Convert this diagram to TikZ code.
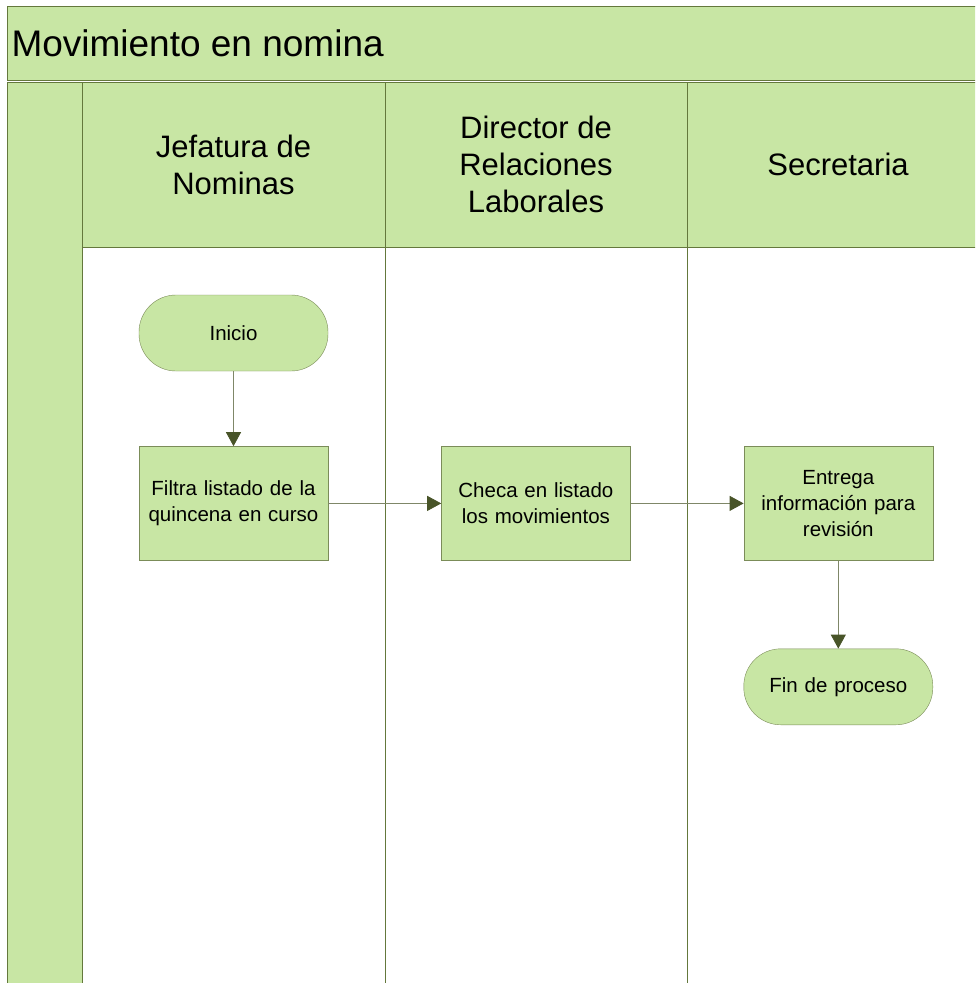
\documentclass[tikz,border=0pt]{standalone}
\usepackage{fontspec}
\setmainfont{Liberation Sans}
\usetikzlibrary{positioning,arrows.meta}
\definecolor{lanefill}{RGB}{200,230,164}
\definecolor{laneline}{RGB}{100,120,60}
\definecolor{flowline}{RGB}{72,84,40}
\begin{document}
\begin{tikzpicture}[x=1pt,y=-1pt,
    lane/.style={draw=laneline,fill=lanefill,line width=1pt},
    proc/.style={draw=laneline!85,fill=lanefill,minimum width=189pt,minimum height=114pt,
      text width=178pt,inner sep=2pt,align=center,font=\fontsize{20.5}{26}\selectfont},
    term/.style={proc,minimum height=76pt,rounded corners=37pt},
    head/.style={align=center,font=\fontsize{31}{37}\selectfont},
    flow/.style={draw=flowline!70,line width=0.8pt,-{Triangle[length=14pt,width=15pt,color=flowline]}}]
  \useasboundingbox[fill=white] (0,0) rectangle (975,983);
  \clip (0,0) rectangle (975,983);
  % pool and lanes
  \draw[lane] (7,6) rectangle (990,80);
  \draw[lane] (7,82) rectangle (82,1000);
  \draw[lane] (82,82) rectangle (385,247);
  \draw[lane] (385,82) rectangle (687,247);
  \draw[lane] (687,82) rectangle (990,247);
  \draw[laneline,line width=1pt] (82,247) -- (82,1000) (385,247) -- (385,1000) (687,247) -- (687,1000);
  \node[font=\fontsize{37}{42}\selectfont,anchor=west] (title) at (8,43) {Movimiento en nomina};
  \node[head] (jefatura) at (233.5,164.5) {Jefatura de\\Nominas};
  \node[head] (director) at (536,164.5) {Director de\\Relaciones\\Laborales};
  \node[head] (secretaria) at (838,164.5) {Secretaria};
  % flow
  \node[term] (inicio) at (233.5,333) {Inicio};
  \node[proc,below=75pt of inicio] (filtra) {Filtra listado de la\\quincena en curso};
  \node[proc,right=113pt of filtra] (checa) {Checa en listado\\los movimientos};
  \node[proc,right=113pt of checa] (entrega) {Entrega\\información para\\revisión};
  \node[term,below=88pt of entrega] (fin) {Fin de proceso};
  \draw[flow] (inicio) -- (filtra);
  \draw[flow] (filtra) -- (checa);
  \draw[flow] (checa) -- (entrega);
  \draw[flow] (entrega) -- (fin);
\end{tikzpicture}
\end{document}
